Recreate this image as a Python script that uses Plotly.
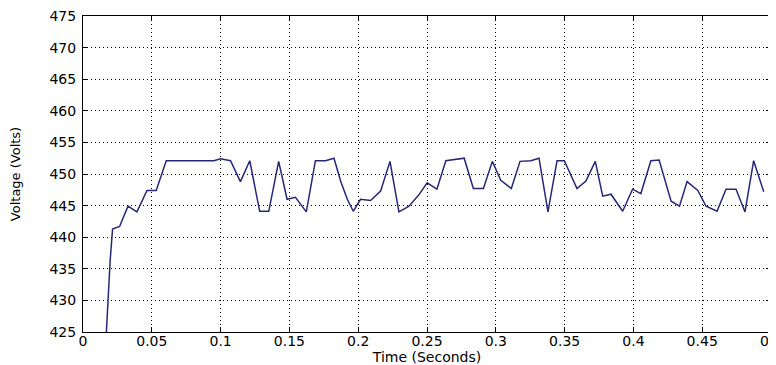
import plotly.graph_objects as go

# Data
time_s = [0.0165, 0.0180, 0.0198, 0.0215, 0.0266, 0.0327, 0.0392, 0.0465, 0.0532,
          0.0605, 0.0639, 0.0707, 0.0854, 0.0951, 0.0999, 0.1072, 0.1144, 0.1212,
          0.1284, 0.1350, 0.1422, 0.1483, 0.1544, 0.1623, 0.1689, 0.1763, 0.1824,
          0.1872, 0.1921, 0.1964, 0.2017, 0.2090, 0.2163, 0.2231, 0.2296, 0.2369,
          0.2441, 0.2501, 0.2572, 0.2637, 0.2770, 0.2837, 0.2910, 0.2975, 0.3036,
          0.3113, 0.3176, 0.3254, 0.3314, 0.3379, 0.3445, 0.3498, 0.3590, 0.3655,
          0.3723, 0.3777, 0.3837, 0.3922, 0.3994, 0.4054, 0.4127, 0.4187, 0.4274,
          0.4335, 0.4390, 0.4468, 0.4528, 0.4608, 0.4673, 0.4746, 0.4811, 0.4874,
          0.4947]
voltage_v = [423.0, 430.0, 436.5, 441.3, 441.7, 444.9, 444.0, 447.4, 447.4,
             452.1, 452.1, 452.2, 452.1, 452.1, 452.4, 452.1, 448.8, 452.1,
             444.1, 444.1, 452.0, 446.0, 446.3, 444.0, 452.1, 452.1, 452.5,
             448.9, 446.0, 444.1, 446.0, 445.8, 447.3, 452.0, 444.0, 444.9,
             446.7, 448.6, 447.6, 452.1, 452.5, 447.7, 447.7, 452.0, 449.0,
             447.7, 452.0, 452.1, 452.5, 444.0, 452.1, 452.1, 447.7, 448.9,
             452.0, 446.5, 446.8, 444.1, 447.6, 446.9, 452.1, 452.2, 445.7,
             444.9, 448.8, 447.4, 444.9, 444.1, 447.6, 447.6, 444.0, 452.1,
             447.2]

x_tick_vals = [0, 0.05, 0.1, 0.15, 0.2, 0.25, 0.3, 0.35, 0.4, 0.45, 0.5]
x_tick_text = ["0", "0.05", "0.1", "0.15", "0.2", "0.25", "0.3", "0.35", "0.4", "0.45", "0.5"]
y_tick_vals = [425, 430, 435, 440, 445, 450, 455, 460, 465, 470, 475]
y_tick_text = [str(v) for v in y_tick_vals]

fig = go.Figure()
fig.add_trace(go.Scatter(x=time_s, y=voltage_v, mode="lines",
                         line=dict(color="#27277a", width=1.5),
                         showlegend=False, hoverinfo="x+y"))

font_family = "DejaVu Sans, Arial, sans-serif"
axis_common = dict(
    showline=True, linecolor="black", linewidth=1, mirror="ticks",
    ticks="inside", ticklen=5, tickcolor="black", tickwidth=1,
    showgrid=True, gridcolor="black", gridwidth=1, griddash="1px,3px",
    zeroline=False, automargin=False, ticklabeloverflow="allow",
    tickfont=dict(family=font_family, size=14, color="black"),
)

fig.update_xaxes(range=[0, 0.5], tickvals=x_tick_vals, ticktext=x_tick_text,
                 ticklabelstandoff=-4,
                 title=dict(text="Time (Seconds)", standoff=0,
                            font=dict(family=font_family, size=14, color="black")),
                 **axis_common)
fig.update_yaxes(range=[425, 475], tickvals=y_tick_vals, ticktext=y_tick_text,
                 ticklabelstandoff=3,
                 title=dict(text="Voltage (Volts)", standoff=25,
                            font=dict(family=font_family, size=13, color="black")),
                 **axis_common)

# The page body has an 8px default margin, so the figure is 8px smaller
fig.update_layout(
    width=768, height=357,
    margin=dict(l=75, r=5, t=8, b=33, pad=0),
    paper_bgcolor="white", plot_bgcolor="white",
)

fig.write_html("out.html")
